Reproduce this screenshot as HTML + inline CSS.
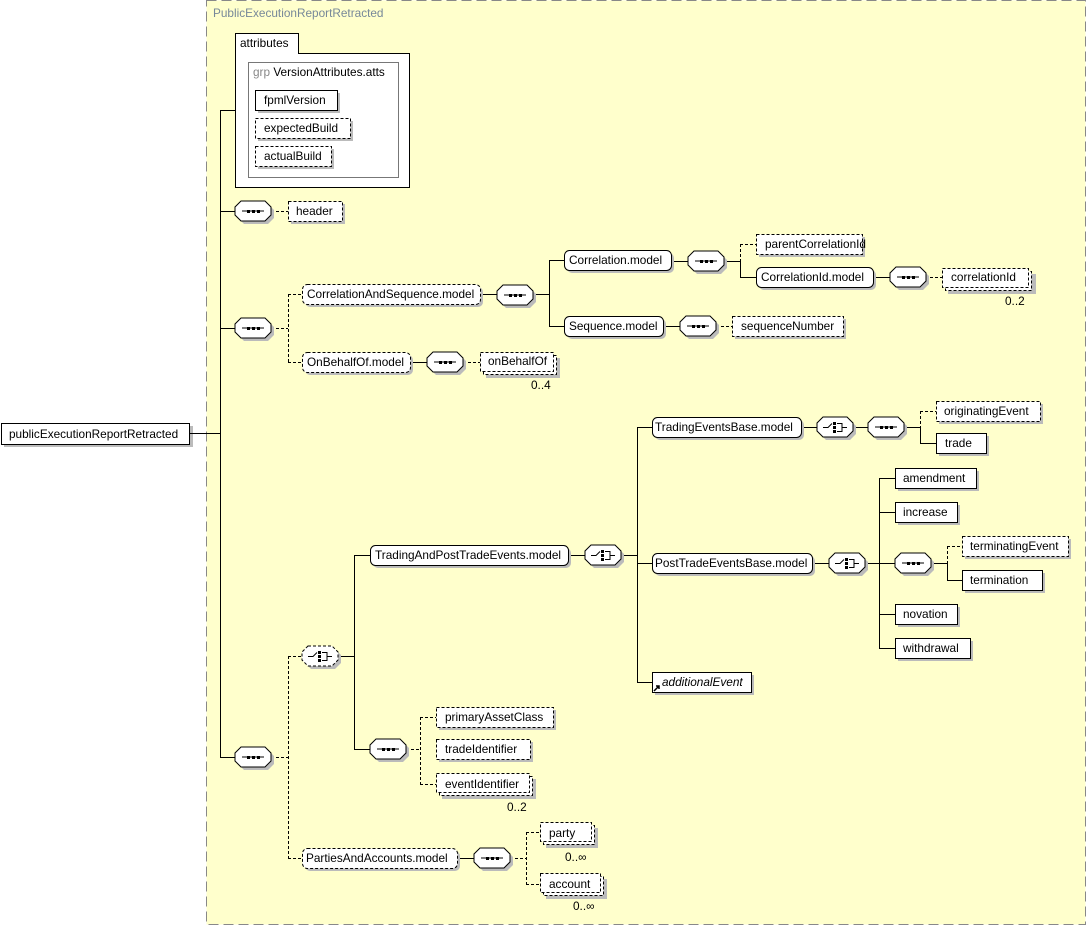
<!DOCTYPE html>
<html><head><meta charset="utf-8"><style>
html,body{margin:0;padding:0;background:#fff;}
svg{display:block;font-family:"Liberation Sans",sans-serif;font-size:11.8px;}
</style></head><body>
<svg width="1087" height="926" viewBox="0 0 1087 926" xmlns="http://www.w3.org/2000/svg">
<defs>
<g id="seq"><polygon points="9,3 33,3 39,9 39,17 33,23 9,23 3,17 3,9" fill="#bbb"/>
<polygon points="6,0 30,0 36,6 36,14 30,20 6,20 0,14 0,6" fill="#fff" stroke="#000"/>
<line x1="7" y1="10" x2="29" y2="10" stroke="#000"/><rect x="12" y="9" width="3" height="3"/><rect x="17" y="9" width="3" height="3"/><rect x="22" y="9" width="3" height="3"/></g>
<g id="seqd"><polygon points="9,3 33,3 39,9 39,17 33,23 9,23 3,17 3,9" fill="#bbb"/>
<polygon points="6,0 30,0 36,6 36,14 30,20 6,20 0,14 0,6" fill="#fff" stroke="#000" stroke-dasharray="3,2"/>
<line x1="7" y1="10" x2="29" y2="10" stroke="#000"/><rect x="12" y="9" width="3" height="3"/><rect x="17" y="9" width="3" height="3"/><rect x="22" y="9" width="3" height="3"/></g>
<g id="cho"><polygon points="9,3 33,3 39,9 39,17 33,23 9,23 3,17 3,9" fill="#bbb"/>
<polygon points="6,0 30,0 36,6 36,14 30,20 6,20 0,14 0,6" fill="#fff" stroke="#000"/>
<path d="M6,10.5H11L15,6.5M20,6.5H25V14.5H20M25,10.5H30" fill="none" stroke="#000"/><rect x="16" y="5" width="3" height="3"/><rect x="16" y="9" width="3" height="3"/><rect x="16" y="13" width="3" height="3"/></g>
<g id="chod"><polygon points="9,3 33,3 39,9 39,17 33,23 9,23 3,17 3,9" fill="#bbb"/>
<polygon points="6,0 30,0 36,6 36,14 30,20 6,20 0,14 0,6" fill="#fff" stroke="#000" stroke-dasharray="3,2"/>
<path d="M6,10.5H11L15,6.5M20,6.5H25V14.5H20M25,10.5H30" fill="none" stroke="#000"/><rect x="16" y="5" width="3" height="3"/><rect x="16" y="9" width="3" height="3"/><rect x="16" y="13" width="3" height="3"/></g>
</defs>

<rect x="206.5" y="0.5" width="879" height="924" fill="#ffffcc" stroke="#888" stroke-dasharray="10,5"/>
<text x="213" y="17" fill="#778899">PublicExecutionReportRetracted</text>

<rect x="235.5" y="33.5" width="63" height="20" fill="#fff" stroke="#000"/>
<rect x="235.5" y="53.5" width="174" height="134" fill="#fff" stroke="#000"/>
<rect x="236" y="52" width="62" height="3" fill="#fff"/>
<text x="240" y="47">attributes</text>
<rect x="248.5" y="62.5" width="150" height="115" fill="#fff" stroke="#777"/>
<text x="253" y="76"><tspan fill="#888">grp</tspan> VersionAttributes.atts</text>
<rect x="258" y="93" width="82" height="20" fill="#bbb"/><rect x="255.5" y="90.5" width="82" height="20" fill="#fff" stroke="#000"/><text x="264" y="104">fpmlVersion</text>
<rect x="258" y="121" width="95" height="20" fill="#bbb"/><rect x="255.5" y="118.5" width="95" height="20" fill="#fff" stroke="#000" stroke-dasharray="3,2"/><text x="264" y="132">expectedBuild</text>
<rect x="258" y="149" width="76" height="20" fill="#bbb"/><rect x="255.5" y="146.5" width="76" height="20" fill="#fff" stroke="#000" stroke-dasharray="3,2"/><text x="264" y="160">actualBuild</text>

<rect x="4" y="426" width="189" height="21" fill="#bbb"/>
<rect x="1.5" y="423.5" width="188" height="21" fill="#fff" stroke="#000"/>
<text x="9" y="438">publicExecutionReportRetracted</text>

<g stroke="#000" fill="none">
<path d="M190,433.5H220.5M220.5,110V757M220,110.5H235M220,211.5H235M220,328.5H235M220,757.5H235"/>
<path d="M271,211.5H288M271,328.5H288M288.5,294V362M288,294.5H302M288,362.5H302" stroke-dasharray="3,2"/>
<path d="M480,294.5H497M533,294.5H549.5M549.5,260V326M549,260.5H564M549,326.5H564"/>
<path d="M671,261.5H688M724,261.5H740.5M740.5,261V277M740,277.5H756"/>
<path d="M740.5,244V261M740,244.5H756" stroke-dasharray="3,2"/>
<path d="M873,277.5H890M663,326.5H680"/>
<path d="M925,277.5H942M716,326.5H732" stroke-dasharray="3,2"/>
<path d="M410,362.5H427"/><path d="M463,362.5H480" stroke-dasharray="3,2"/>
<path d="M271,757.5H288M288.5,656V858M288,656.5H302M288,858.5H302" stroke-dasharray="3,2"/>
<path d="M338,656.5H354.5M354.5,555V749M354,555.5H370M354,749.5H370"/>
<path d="M568,555.5H585M621,555.5H637.5M637.5,427V682M637,427.5H652M637,563.5H652M637,682.5H652"/>
<path d="M801,427.5H817M853,427.5H868M904,427.5H920.5M920.5,427V443M920,443.5H936"/>
<path d="M920.5,411V427M920,411.5H936" stroke-dasharray="3,2"/>
<path d="M812,563.5H829M865,563.5H895M879.5,478V648M879,478.5H895M879,512.5H895M879,614.5H895M879,648.5H895"/>
<path d="M931,563.5H947.5M947.5,563V580M947,580.5H962"/>
<path d="M947.5,546V563M947,546.5H962" stroke-dasharray="3,2"/>
<path d="M406,749.5H420.5M420.5,717V784M420,717.5H436M420,784.5H436" stroke-dasharray="3,2"/>
<path d="M457,858.5H474"/>
<path d="M510,858.5H526.5M526.5,832V884M526,832.5H540M526,884.5H540" stroke-dasharray="3,2"/>
</g>

<use href="#seq" x="235" y="201"/>
<use href="#seq" x="235" y="318"/>
<use href="#seq" x="235" y="747"/>
<use href="#seq" x="497" y="285"/>
<use href="#seq" x="688" y="251"/>
<use href="#seq" x="890" y="267"/>
<use href="#seq" x="680" y="316"/>
<use href="#seq" x="427" y="352"/>
<use href="#chod" x="302" y="646"/>
<use href="#cho" x="585" y="545"/>
<use href="#cho" x="817" y="417"/>
<use href="#seq" x="868" y="417"/>
<use href="#cho" x="829" y="553"/>
<use href="#seq" x="895" y="553"/>
<use href="#seq" x="370" y="739"/>
<use href="#seq" x="474" y="848"/>

<rect x="291" y="204" width="54" height="20" fill="#bbb"/><rect x="288.5" y="201.5" width="54" height="20" fill="#fff" stroke="#000" stroke-dasharray="3,2"/><text x="296" y="215">header</text>

<g>
<rect x="305" y="287" width="178" height="20" rx="5" fill="#bbb"/><rect x="302.5" y="284.5" width="178" height="20" rx="5" fill="#fff" stroke="#000" stroke-dasharray="3,2"/><text x="307" y="298">CorrelationAndSequence.model</text>
<rect x="567" y="253" width="107" height="20" rx="5" fill="#bbb"/><rect x="564.5" y="250.5" width="107" height="20" rx="5" fill="#fff" stroke="#000"/><text x="569" y="264">Correlation.model</text>
<rect x="759" y="270" width="117" height="20" rx="5" fill="#bbb"/><rect x="756.5" y="267.5" width="117" height="20" rx="5" fill="#fff" stroke="#000"/><text x="761" y="281">CorrelationId.model</text>
<rect x="567" y="319" width="99" height="20" rx="5" fill="#bbb"/><rect x="564.5" y="316.5" width="99" height="20" rx="5" fill="#fff" stroke="#000"/><text x="569" y="330">Sequence.model</text>
<rect x="305" y="355" width="108" height="20" rx="5" fill="#bbb"/><rect x="302.5" y="352.5" width="108" height="20" rx="5" fill="#fff" stroke="#000" stroke-dasharray="3,2"/><text x="307" y="366">OnBehalfOf.model</text>
<rect x="373" y="548" width="198" height="20" rx="5" fill="#bbb"/><rect x="370.5" y="545.5" width="198" height="20" rx="5" fill="#fff" stroke="#000"/><text x="375" y="559">TradingAndPostTradeEvents.model</text>
<rect x="655" y="420" width="149" height="20" rx="5" fill="#bbb"/><rect x="652.5" y="417.5" width="149" height="20" rx="5" fill="#fff" stroke="#000"/><text x="655" y="431">TradingEventsBase.model</text>
<rect x="655" y="556" width="160" height="20" rx="5" fill="#bbb"/><rect x="652.5" y="553.5" width="160" height="20" rx="5" fill="#fff" stroke="#000"/><text x="655" y="567">PostTradeEventsBase.model</text>
<rect x="305" y="851" width="155" height="20" rx="5" fill="#bbb"/><rect x="302.5" y="848.5" width="155" height="20" rx="5" fill="#fff" stroke="#000" stroke-dasharray="3,2"/><text x="306" y="862">PartiesAndAccounts.model</text>
</g>

<g stroke-dasharray="3,2">
<rect x="759" y="237" width="106" height="20" fill="#bbb" stroke="none"/><rect x="756.5" y="234.5" width="106" height="20" fill="#fff" stroke="#000"/>
<rect x="735" y="319" width="111" height="20" fill="#bbb" stroke="none"/><rect x="732.5" y="316.5" width="111" height="20" fill="#fff" stroke="#000"/>
<rect x="939" y="404" width="104" height="20" fill="#bbb" stroke="none"/><rect x="936.5" y="401.5" width="104" height="20" fill="#fff" stroke="#000"/>
<rect x="965" y="539" width="106" height="20" fill="#bbb" stroke="none"/><rect x="962.5" y="536.5" width="106" height="20" fill="#fff" stroke="#000"/>
<rect x="439" y="710" width="117" height="20" fill="#bbb" stroke="none"/><rect x="436.5" y="707.5" width="117" height="20" fill="#fff" stroke="#000"/>
<rect x="439" y="742" width="94" height="20" fill="#bbb" stroke="none"/><rect x="436.5" y="739.5" width="94" height="20" fill="#fff" stroke="#000"/>
<rect x="948" y="274" width="88" height="20" fill="#bbb" stroke="none"/><rect x="945.5" y="271.5" width="86" height="19" fill="#fff" stroke="#000"/><rect x="942.5" y="268.5" width="86" height="19" fill="#fff" stroke="#000"/>
<rect x="486" y="358" width="74" height="20" fill="#bbb" stroke="none"/><rect x="483.5" y="355.5" width="73" height="19" fill="#fff" stroke="#000"/><rect x="480.5" y="352.5" width="73" height="19" fill="#fff" stroke="#000"/>
<rect x="442" y="779" width="94" height="20" fill="#bbb" stroke="none"/><rect x="439.5" y="776.5" width="93" height="19" fill="#fff" stroke="#000"/><rect x="436.5" y="773.5" width="93" height="19" fill="#fff" stroke="#000"/>
<rect x="546" y="828" width="52" height="20" fill="#bbb" stroke="none"/><rect x="543.5" y="825.5" width="51" height="19" fill="#fff" stroke="#000"/><rect x="540.5" y="822.5" width="51" height="19" fill="#fff" stroke="#000"/>
<rect x="546" y="879" width="61" height="20" fill="#bbb" stroke="none"/><rect x="543.5" y="876.5" width="60" height="19" fill="#fff" stroke="#000"/><rect x="540.5" y="873.5" width="60" height="19" fill="#fff" stroke="#000"/>
</g>
<g>
<rect x="939" y="436" width="50" height="20" fill="#bbb"/><rect x="936.5" y="433.5" width="50" height="20" fill="#fff" stroke="#000"/>
<rect x="898" y="471" width="81" height="20" fill="#bbb"/><rect x="895.5" y="468.5" width="81" height="20" fill="#fff" stroke="#000"/>
<rect x="898" y="505" width="62" height="20" fill="#bbb"/><rect x="895.5" y="502.5" width="62" height="20" fill="#fff" stroke="#000"/>
<rect x="965" y="573" width="80" height="20" fill="#bbb"/><rect x="962.5" y="570.5" width="80" height="20" fill="#fff" stroke="#000"/>
<rect x="898" y="607" width="62" height="20" fill="#bbb"/><rect x="895.5" y="604.5" width="62" height="20" fill="#fff" stroke="#000"/>
<rect x="898" y="641" width="75" height="20" fill="#bbb"/><rect x="895.5" y="638.5" width="75" height="20" fill="#fff" stroke="#000"/>
<rect x="655" y="675" width="99" height="20" fill="#bbb"/><rect x="652.5" y="672.5" width="99" height="20" fill="#fff" stroke="#000"/>
<path d="M654,691L659,686M656,686H659V689" stroke="#000" stroke-width="1.5" fill="none"/>
</g>

<g>
<text x="765" y="248">parentCorrelationId</text>
<text x="741" y="330">sequenceNumber</text>
<text x="951" y="281">correlationId</text>
<text x="1005" y="305">0..2</text>
<text x="488" y="365">onBehalfOf</text>
<text x="531" y="389">0..4</text>
<text x="944" y="415">originatingEvent</text>
<text x="945" y="447">trade</text>
<text x="903" y="482">amendment</text>
<text x="903" y="516">increase</text>
<text x="970" y="550">terminatingEvent</text>
<text x="970" y="584">termination</text>
<text x="903" y="618">novation</text>
<text x="903" y="652">withdrawal</text>
<text x="662" y="686" font-style="italic">additionalEvent</text>
<text x="445" y="721">primaryAssetClass</text>
<text x="445" y="753">tradeIdentifier</text>
<text x="445" y="788">eventIdentifier</text>
<text x="507" y="811">0..2</text>
<text x="549" y="837">party</text>
<text x="565" y="861">0..∞</text>
<text x="549" y="888">account</text>
<text x="573" y="910">0..∞</text>
</g>
</svg>
</body></html>
